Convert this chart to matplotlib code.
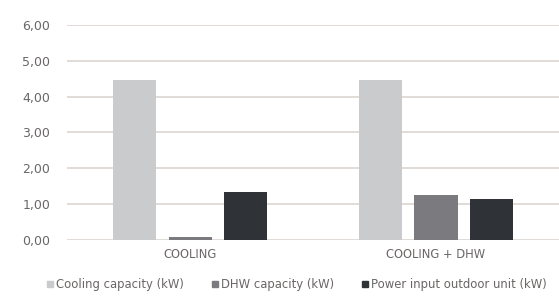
import numpy as np
import matplotlib.pyplot as plt
from matplotlib.lines import Line2D

# Data
categories = ["COOLING", "COOLING + DHW"]
series_names = ["Cooling capacity (kW)", "DHW capacity (kW)", "Power input outdoor unit (kW)"]
cooling_capacity = [4.47, 4.47]
dhw_capacity = [0.08, 1.26]
power_input = [1.34, 1.15]
y_ticks = [0, 1, 2, 3, 4, 5, 6]

colors = ["#cacbcd", "#7b7a7e", "#2f3337"]
text_color = "#6a6666"

plt.rcParams['font.family'] = ['DejaVu Sans']

fig = plt.figure(figsize=(5.59, 3.04), dpi=100)
ax = fig.add_axes([0.12, 0.2105, 0.88, 0.7075])

x = np.arange(len(categories))
width = 0.175
offset = 0.224
all_series = [cooling_capacity, dhw_capacity, power_input]
for i, (vals, col) in enumerate(zip(all_series, colors)):
    ax.bar(x + (i - 1) * offset, vals, width, color=col, zorder=3)

ax.set_xlim(-0.5, 1.5)
ax.set_ylim(0, 6)
ax.set_yticks(y_ticks)
ax.set_yticklabels([f"{v:.2f}".replace(".", ",") for v in y_ticks])
ax.set_xticks(x)
ax.set_xticklabels(categories)
ax.yaxis.grid(True, color="#dcd6d0", linewidth=1.2, zorder=0)
ax.set_axisbelow(True)
for s in ax.spines.values():
    s.set_visible(False)
ax.tick_params(axis='y', length=0, pad=12, labelsize=9, colors=text_color)
ax.tick_params(axis='x', length=0, pad=6, labelsize=8.3, colors=text_color)

# Legend with square markers
handles = [Line2D([0], [0], marker='s', linestyle='', color=c, markersize=4.5) for c in colors]
fig.legend(handles, series_names, loc='center', bbox_to_anchor=(0.53, 0.065), ncol=3,
           frameon=False, fontsize=8.4, labelcolor=text_color, handletextpad=0.15,
           columnspacing=2.3, handlelength=0.7)

fig.savefig("out.png", dpi=100)
